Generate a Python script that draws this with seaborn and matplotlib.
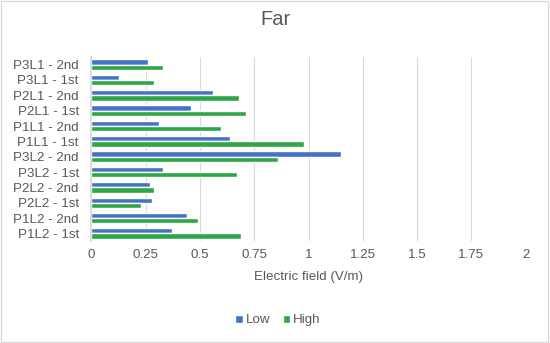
import matplotlib
matplotlib.use("Agg")
import matplotlib.pyplot as plt
import seaborn as sns
import pandas as pd

# categories from top to bottom
categories = ["P3L1 - 2nd", "P3L1 - 1st", "P2L1 - 2nd", "P2L1 - 1st",
              "P1L1 - 2nd", "P1L1 - 1st", "P3L2 - 2nd", "P3L2 - 1st",
              "P2L2 - 2nd", "P2L2 - 1st", "P1L2 - 2nd", "P1L2 - 1st"]
low = [0.26, 0.128, 0.558, 0.46, 0.31, 0.64, 1.15, 0.33, 0.27, 0.28, 0.44, 0.37]
high = [0.328, 0.289, 0.68, 0.71, 0.598, 0.98, 0.86, 0.67, 0.29, 0.23, 0.49, 0.69]
xticks = [0, 0.25, 0.5, 0.75, 1, 1.25, 1.5, 1.75, 2]
xtick_labels = ["0", "0.25", "0.5", "0.75", "1", "1.25", "1.5", "1.75", "2"]

df = pd.DataFrame({
    "cat": categories * 2,
    "value": low + high,
    "series": ["Low"] * len(low) + ["High"] * len(high),
})

sns.set_theme(style="white")
plt.rcParams["font.family"] = ["Liberation Sans", "DejaVu Sans"]
grey = "#595959"
fs = 9.6

fig = plt.figure(figsize=(5.5, 3.43), dpi=100)
ax = fig.add_axes([0.166, 0.297, 0.79, 0.537])

sns.barplot(data=df, x="value", y="cat", hue="series", order=categories,
            hue_order=["Low", "High"], palette=["#4472C4", "#2DA647"],
            orient="h", width=0.68, gap=0, saturation=1, ax=ax, legend=True)

ax.set_xlim(0, 2)
ax.set_xticks(xticks)
ax.set_xticklabels(xtick_labels)
ax.xaxis.grid(True, color="#D9D9D9", linewidth=0.8)
ax.set_axisbelow(True)
for s in ["top", "right", "bottom"]:
    ax.spines[s].set_visible(False)
ax.spines["left"].set_color("#D9D9D9")
ax.tick_params(axis="both", length=0, labelsize=fs, colors=grey)
ax.tick_params(axis="x", pad=6)
ax.tick_params(axis="y", pad=9)
ax.set_ylabel("")
ax.set_xlabel("Electric field (V/m)", fontsize=fs, color=grey, labelpad=7)
fig.text(0.5, 1 - 25 / 343, "Far", fontsize=14.5, color=grey, ha="center", va="baseline")

handles, labels = ax.get_legend_handles_labels()
ax.legend(handles, labels, loc="center", bbox_to_anchor=(0.43, -0.43), ncol=2,
          frameon=False, fontsize=fs, labelcolor=grey, handlelength=0.55,
          handleheight=0.55, handletextpad=0.25, columnspacing=0.9)

fig.patches.append(plt.Rectangle((0.002, 0.003), 0.995, 0.993, transform=fig.transFigure,
                                 fill=False, edgecolor="#D9D9D9", linewidth=1))

fig.savefig("out.png", dpi=100)
